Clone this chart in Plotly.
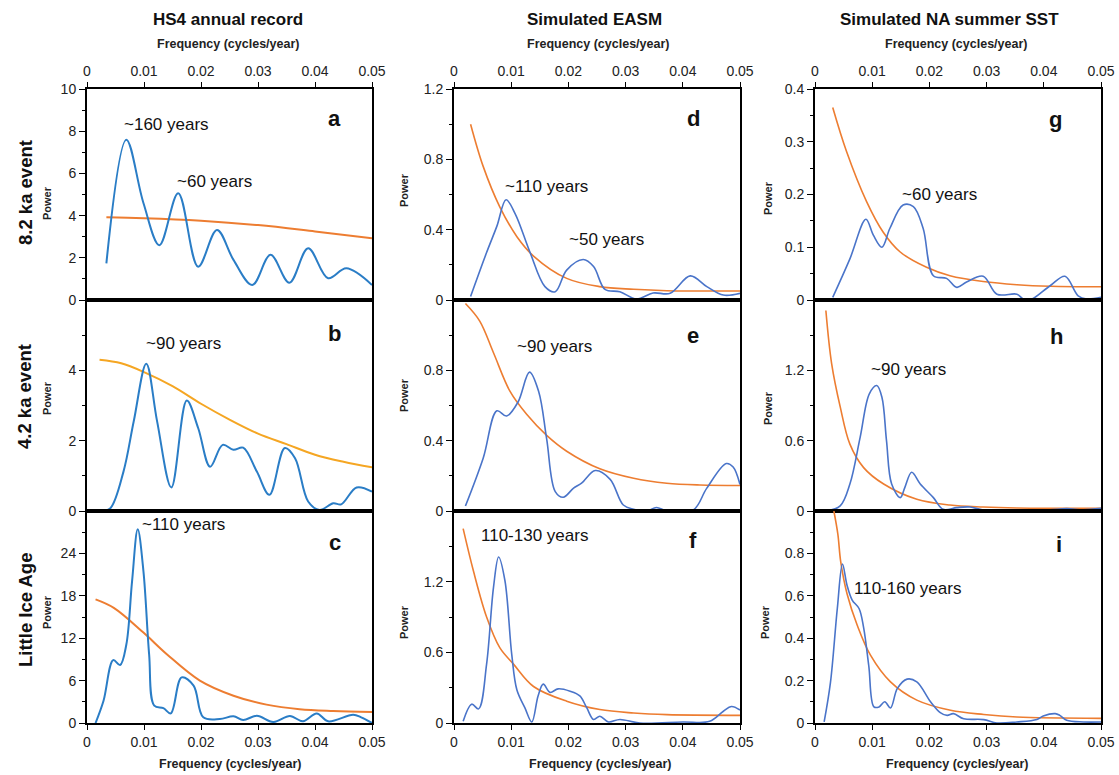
import plotly.graph_objects as go

# ---------------- data ----------------
# Panel a: HS4, 8.2 ka event
a_freq = [0.0034, 0.0069, 0.0099, 0.0127, 0.016, 0.0195, 0.0228, 0.0257, 0.029, 0.0322, 0.0355, 0.0388, 0.0423, 0.0455, 0.05]
a_power = [1.74, 7.6, 4.6, 2.6, 5.06, 1.58, 3.32, 1.9, 0.71, 2.14, 0.82, 2.45, 1.03, 1.5, 0.71]
a_rn_freq = [0.0034, 0.01, 0.02, 0.03, 0.04, 0.05]
a_rn_power = [3.92, 3.88, 3.76, 3.55, 3.25, 2.93]

# Panel b: HS4, 4.2 ka event
b_freq = [0.0026, 0.0041, 0.0064, 0.0082, 0.0104, 0.0123, 0.0148, 0.0175, 0.0195, 0.0216, 0.0238, 0.0257, 0.0274,
          0.0298, 0.032, 0.0347, 0.0365, 0.0388, 0.0408, 0.0432, 0.0446, 0.0473, 0.05]
b_power = [0.0, 0.08, 1.12, 2.55, 4.19, 2.55, 0.67, 3.14, 2.36, 1.26, 1.88, 1.74, 1.8,
           1.12, 0.46, 1.79, 1.5, 0.27, 0.03, 0.22, 0.19, 0.67, 0.55]
b_rn_freq = [0.0022, 0.006, 0.01, 0.015, 0.02, 0.025, 0.03, 0.035, 0.04, 0.045, 0.05]
b_rn_power = [4.3, 4.2, 3.95, 3.55, 3.05, 2.6, 2.2, 1.9, 1.6, 1.4, 1.24]

# Panel c: HS4, Little Ice Age
c_freq = [0.0015, 0.0029, 0.0046, 0.0058, 0.0069, 0.0079, 0.0089, 0.0099, 0.0109, 0.0118, 0.0134, 0.0147, 0.0166,
          0.0187, 0.0204, 0.0233, 0.0257, 0.0274, 0.0298, 0.0327, 0.0356, 0.0379, 0.0403, 0.0423, 0.0467, 0.0481, 0.05]
c_power = [0.0, 3.15, 8.9, 8.2, 11.1, 20.0, 27.4, 21.5, 9.7, 2.45, 2.1, 1.36, 6.45,
           5.3, 0.8, 0.56, 0.94, 0.42, 1.03, 0.14, 0.99, 0.24, 1.36, 0.24, 1.18, 0.8, 0.0]
c_rn_freq = [0.0015, 0.0047, 0.0099, 0.014, 0.0198, 0.0257, 0.0315, 0.0373, 0.0432, 0.05]
c_rn_power = [17.5, 16.3, 12.8, 9.74, 6.0, 3.86, 2.6, 1.95, 1.7, 1.55]

# Panel d: simulated EASM, 8.2 ka
d_freq = [0.0029, 0.0057, 0.0075, 0.0091, 0.0107, 0.0133, 0.0159, 0.0177, 0.0197, 0.0226, 0.0244, 0.0264, 0.029,
          0.0319, 0.0348, 0.0378, 0.0413, 0.0442, 0.0471, 0.05]
d_power = [0.02, 0.27, 0.42, 0.57, 0.49, 0.27, 0.076, 0.047, 0.17, 0.23, 0.19, 0.06, 0.047,
           0.006, 0.04, 0.038, 0.137, 0.076, 0.028, 0.038]
d_rn_freq = [0.0029, 0.0051, 0.008, 0.011, 0.0139, 0.0197, 0.0255, 0.0314, 0.0372, 0.05]
d_rn_power = [1.0, 0.76, 0.53, 0.36, 0.25, 0.123, 0.076, 0.061, 0.053, 0.051]

# Panel e: simulated EASM, 4.2 ka
e_freq = [0.002, 0.0051, 0.0075, 0.0092, 0.0112, 0.0132, 0.0148, 0.0162, 0.0177, 0.0191, 0.0209, 0.0223, 0.0247,
          0.0273, 0.0296, 0.0314, 0.0337, 0.0354, 0.0372, 0.0418, 0.0442, 0.0476, 0.0488, 0.05]
e_power = [0.028, 0.3, 0.57, 0.54, 0.62, 0.79, 0.68, 0.41, 0.11, 0.078, 0.13, 0.158, 0.23,
           0.18, 0.034, 0.01, 0.0, 0.02, 0.0, 0.005, 0.13, 0.27, 0.25, 0.15]
e_rn_freq = [0.002, 0.0045, 0.0069, 0.0098, 0.0127, 0.0162, 0.0197, 0.0255, 0.0314, 0.0372, 0.043, 0.05]
e_rn_power = [1.18, 1.08, 0.9, 0.68, 0.55, 0.43, 0.34, 0.24, 0.186, 0.158, 0.148, 0.145]

# Panel f: simulated EASM, Little Ice Age
f_freq = [0.0016, 0.0031, 0.0043, 0.0057, 0.0069, 0.0078, 0.0089, 0.0101, 0.011, 0.0124, 0.0136, 0.0147, 0.0156,
          0.0168, 0.0182, 0.0203, 0.022, 0.0232, 0.0244, 0.0255, 0.027, 0.029, 0.0325, 0.04, 0.0447, 0.0471, 0.0485, 0.05]
f_power = [0.014, 0.16, 0.12, 0.5, 1.15, 1.41, 1.21, 0.58, 0.28, 0.128, 0.009, 0.23, 0.33,
           0.26, 0.29, 0.27, 0.23, 0.13, 0.03, 0.057, 0.009, 0.03, 0.0, 0.009, 0.014, 0.1, 0.14, 0.11]
f_rn_freq = [0.0016, 0.0034, 0.0057, 0.008, 0.0104, 0.0139, 0.0197, 0.0255, 0.0314, 0.0372, 0.05]
f_rn_power = [1.65, 1.29, 0.9, 0.64, 0.5, 0.31, 0.185, 0.114, 0.085, 0.071, 0.065]

# Panel g: simulated NA summer SST, 8.2 ka
g_freq = [0.0031, 0.0061, 0.0089, 0.0102, 0.0117, 0.0131, 0.0154, 0.0172, 0.0189, 0.0207, 0.023, 0.0248, 0.0265,
          0.0294, 0.0318, 0.0353, 0.0364, 0.0376, 0.0411, 0.0437, 0.046, 0.0475, 0.05]
g_power = [0.005, 0.078, 0.153, 0.123, 0.1, 0.136, 0.18, 0.177, 0.136, 0.046, 0.041, 0.024, 0.034,
           0.045, 0.011, 0.011, 0.002, 0.0, 0.027, 0.045, 0.008, 0.002, 0.005]
g_rn_freq = [0.0031, 0.0055, 0.009, 0.0119, 0.0149, 0.0195, 0.0236, 0.0294, 0.0353, 0.0411, 0.05]
g_rn_power = [0.365, 0.282, 0.187, 0.129, 0.091, 0.062, 0.046, 0.035, 0.029, 0.026, 0.025]

# Panel h: simulated NA summer SST, 4.2 ka
h_freq = [0.0019, 0.0044, 0.0061, 0.0079, 0.0095, 0.0108, 0.0117, 0.0125, 0.0134, 0.0149, 0.0157, 0.0169, 0.0184,
          0.0207, 0.0224, 0.0248, 0.0271, 0.0294, 0.0353, 0.0411, 0.044, 0.0469, 0.05]
h_power = [0.0, 0.043, 0.23, 0.63, 1.0, 1.07, 0.97, 0.6, 0.23, 0.114, 0.2, 0.33, 0.23,
           0.114, 0.014, 0.029, 0.034, 0.009, 0.0, 0.011, 0.02, 0.011, 0.023]
h_rn_freq = [0.0019, 0.0029, 0.0044, 0.0061, 0.0085, 0.012, 0.0178, 0.0236, 0.0294, 0.0353, 0.05]
h_rn_power = [1.71, 1.26, 0.89, 0.57, 0.37, 0.23, 0.1, 0.051, 0.034, 0.026, 0.023]

# Panel i: simulated NA summer SST, Little Ice Age
i_freq = [0.0016, 0.0027, 0.0039, 0.0048, 0.0056, 0.0065, 0.0077, 0.0085, 0.0094, 0.0103, 0.0112, 0.0122, 0.0132,
          0.0144, 0.0161, 0.0178, 0.0202, 0.0219, 0.0231, 0.0242, 0.026, 0.0295, 0.0318, 0.0353, 0.0388, 0.0399,
          0.042, 0.0428, 0.044, 0.0469, 0.05]
i_power = [0.005, 0.19, 0.54, 0.75, 0.65, 0.58, 0.54, 0.45, 0.27, 0.076, 0.076, 0.1, 0.071,
           0.163, 0.207, 0.194, 0.1, 0.049, 0.036, 0.044, 0.02, 0.016, 0.0, 0.005, 0.017, 0.033,
           0.044, 0.036, 0.013, 0.005, 0.005]
i_rn_freq = [0.0033, 0.004, 0.0045, 0.0056, 0.0074, 0.0097, 0.0132, 0.0178, 0.0237, 0.0295, 0.0353, 0.05]
i_rn_power = [1.0, 0.89, 0.76, 0.61, 0.46, 0.32, 0.194, 0.108, 0.06, 0.04, 0.028, 0.022]

col_titles = ["HS4 annual record", "Simulated EASM", "Simulated NA summer SST"]
row_titles = ["8.2 ka event", "4.2 ka event", "Little Ice Age"]
panel_letters = ["a", "b", "c", "d", "e", "f", "g", "h", "i"]
period_labels = [
    [("~160 years", 0.0061, 8.3), ("~60 years", 0.0155, 5.6)],
    [("~90 years", 0.0100, 4.75)],
    [("~110 years", 0.0093, 28.1)],
    [("~110 years", 0.0085, 0.645), ("~50 years", 0.0197, 0.345)],
    [("~90 years", 0.0107, 0.933)],
    [("110-130 years", 0.0044, 1.59)],
    [("~60 years", 0.0149, 0.20)],
    [("~90 years", 0.0094, 1.21)],
    [("110-160 years", 0.0064, 0.634)],
]
letter_pos = [(0.0435, 8.6), (0.0435, 5.04), (0.0435, 25.5), (0.0418, 1.035), (0.0418, 1.0), (0.0418, 1.55),
              (0.0421, 0.343), (0.0422, 1.49), (0.0427, 0.84)]

# y-axis settings per panel: (range max, labelled ticks, minor step)
y_specs = [
    (10, [0, 2, 4, 6, 8, 10], 1),
    (6, [0, 2, 4], 1),
    (30, [0, 6, 12, 18, 24], 3),
    (1.2, [0, 0.4, 0.8, 1.2], 0.2),
    (1.2, [0, 0.4, 0.8], 0.2),
    (1.8, [0, 0.6, 1.2], 0.3),
    (0.4, [0, 0.1, 0.2, 0.3, 0.4], 0.05),
    (1.8, [0, 0.6, 1.2], 0.3),
    (1.0, [0, 0.2, 0.4, 0.6, 0.8], 0.1),
]

spectra = [(a_freq, a_power), (b_freq, b_power), (c_freq, c_power),
           (d_freq, d_power), (e_freq, e_power), (f_freq, f_power),
           (g_freq, g_power), (h_freq, h_power), (i_freq, i_power)]
rednoise = [(a_rn_freq, a_rn_power), (b_rn_freq, b_rn_power), (c_rn_freq, c_rn_power),
            (d_rn_freq, d_rn_power), (e_rn_freq, e_rn_power), (f_rn_freq, f_rn_power),
            (g_rn_freq, g_rn_power), (h_rn_freq, h_rn_power), (i_rn_freq, i_rn_power)]

# ---------------- layout geometry ----------------
W, H = 1119, 775
col_px = [(87, 372), (454, 740), (815, 1101)]
row_px = [(89, 300), (300, 511), (511, 723)]

FONT = "Liberation Sans, Arial, sans-serif"
fig = go.Figure()
layout = dict(
    width=W, height=H, margin=dict(l=0, r=0, t=0, b=0, autoexpand=False),
    paper_bgcolor="white", plot_bgcolor="white", showlegend=False,
    font=dict(family=FONT, color="#222222"),
)
annotations = []

for k in range(9):
    col, row = k // 3, k % 3
    n = k + 1
    xa = "x" if n == 1 else f"x{n}"
    ya = "y" if n == 1 else f"y{n}"
    blue = "#2A7DC6" if col == 0 else "#4A74C9"
    orange = "#F5A623" if k == 1 else "#ED7D31"
    lw = 2.0 if col == 0 else 1.6
    fx, fy = spectra[k]
    rx, ry = rednoise[k]
    fig.add_trace(go.Scatter(x=rx, y=ry, xaxis=xa, yaxis=ya, mode="lines",
                             line=dict(color=orange, width=lw, shape="spline", smoothing=1.0)))
    fig.add_trace(go.Scatter(x=fx, y=fy, xaxis=xa, yaxis=ya, mode="lines",
                             line=dict(color=blue, width=lw, shape="spline", smoothing=1.0)))

    x0, x1 = col_px[col]
    y0, y1 = row_px[row]
    ymax, yticks, ymin_step = y_specs[k]
    nminor = int(round(ymax / ymin_step))
    minor_vals = [round(j * ymin_step, 4) for j in range(nminor + 1)]
    xkey = "xaxis" if n == 1 else f"xaxis{n}"
    ykey = "yaxis" if n == 1 else f"yaxis{n}"
    xdict = dict(domain=[x0 / W, x1 / W], range=[0, 0.05], anchor=ya, dtick=0.01, tick0=0,
                 showline=True, linecolor="black", linewidth=2, mirror=True, showgrid=False,
                 zeroline=False, automargin=False,
                 tickfont=dict(size=14, family=FONT, color="#222222"),
                 ticks="outside", ticklen=5, tickcolor="black")
    if row == 0:
        xdict.update(side="top", showticklabels=True)
    elif row == 1:
        xdict.update(showticklabels=False, ticks="")
    else:
        xdict.update(side="bottom", showticklabels=True)
    ydict = dict(domain=[1 - y1 / H, 1 - y0 / H], range=[0, ymax], anchor=xa,
                 tickmode="array", tickvals=yticks, automargin=False,
                 showline=True, linecolor="black", linewidth=2, mirror=True,
                 showgrid=False, zeroline=False, ticks="outside", ticklen=6, tickcolor="black",
                 tickfont=dict(size=14, family=FONT, color="#222222"),
                 minor=dict(ticks="outside", ticklen=3, tickcolor="black",
                            tickmode="array", tickvals=minor_vals, showgrid=False))
    layout[xkey] = xdict
    layout[ykey] = ydict

    for txt, tx, ty in period_labels[k]:
        annotations.append(dict(x=tx, y=ty, xref=xa, yref=ya, text=txt, showarrow=False,
                                xanchor="left", yanchor="middle",
                                font=dict(size=17, family=FONT, color="#111111")))
    lx, ly = letter_pos[k]
    annotations.append(dict(x=lx, y=ly, xref=xa, yref=ya, text=f"<b>{panel_letters[k]}</b>",
                            showarrow=False, xanchor="center", yanchor="middle",
                            font=dict(size=22, family=FONT, color="#111111")))

# column titles and frequency labels
col_title_x = [228, 594, 949]
freq_top_x = [228, 598, 956]
freq_bot_x = [230, 600, 957]
for c in range(3):
    annotations.append(dict(x=col_title_x[c] / W, y=1 - 19 / H, xref="paper", yref="paper",
                            text=f"<b>{col_titles[c]}</b>", showarrow=False,
                            xanchor="center", yanchor="middle",
                            font=dict(size=17, family=FONT, color="#111111")))
    annotations.append(dict(x=freq_top_x[c] / W, y=1 - 44 / H, xref="paper", yref="paper",
                            text="<b>Frequency (cycles/year)</b>", showarrow=False,
                            xanchor="center", yanchor="middle",
                            font=dict(size=12.5, family=FONT, color="#222222")))
    annotations.append(dict(x=freq_bot_x[c] / W, y=1 - 764 / H, xref="paper", yref="paper",
                            text="<b>Frequency (cycles/year)</b>", showarrow=False,
                            xanchor="center", yanchor="middle",
                            font=dict(size=12.5, family=FONT, color="#222222")))

# row titles
row_title_y = [193, 397, 610]
for r in range(3):
    annotations.append(dict(x=25 / W, y=1 - row_title_y[r] / H, xref="paper", yref="paper",
                            text=f"<b>{row_titles[r]}</b>", showarrow=False, textangle=-90,
                            xanchor="center", yanchor="middle",
                            font=dict(size=18.5, family=FONT, color="#111111")))

# "Power" axis titles
power_pos = [(47, 203), (47, 398), (47, 612), (404, 190), (404, 395), (404, 622),
             (768, 198), (768, 408), (765, 622)]
for px, py in power_pos:
    annotations.append(dict(x=px / W, y=1 - py / H, xref="paper", yref="paper",
                            text="<b>Power</b>", showarrow=False, textangle=-90,
                            xanchor="center", yanchor="middle",
                            font=dict(size=11, family=FONT, color="#222222")))

layout["annotations"] = annotations
fig.update_layout(**layout)
fig.write_html("out.html",
               config={"displayModeBar": False},
               post_script="document.body.style.margin='0';document.body.style.padding='0';"
                           "document.documentElement.style.overflow='hidden';")
